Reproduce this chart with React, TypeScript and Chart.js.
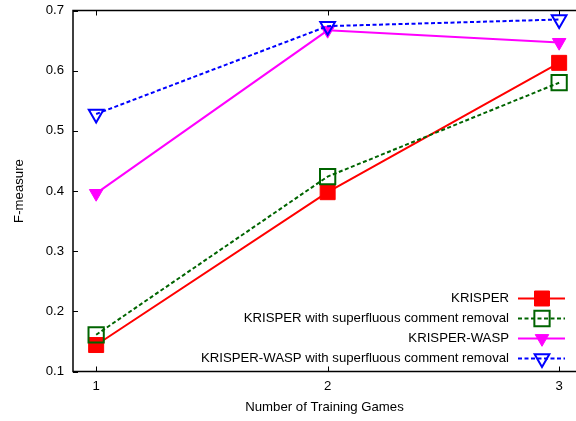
import React, { useEffect, useRef } from 'react';
import { Chart, registerables } from 'chart.js';
import { drawPoint } from 'chart.js/helpers';

Chart.register(...registerables);

// ---- data ----
const trainingGames = [1, 2, 3];
const krisper = [0.144, 0.398, 0.613];
const krisperSCR = [0.161, 0.424, 0.58];
const krisperWasp = [0.396, 0.667, 0.647];
const krisperWaspSCR = [0.528, 0.674, 0.685];
const seriesLabels = [
  'KRISPER',
  'KRISPER with superfluous comment removal',
  'KRISPER-WASP',
  'KRISPER-WASP with superfluous comment removal',
];
const xTickValues = [1, 2, 3];
const yTickValues = [0.1, 0.2, 0.3, 0.4, 0.5, 0.6, 0.7];

const FONT_FAMILY = '"Liberation Sans", Arial, Helvetica, sans-serif';
const FONT_SIZE = 13.2;

const toPoints = (vals: number[]) => trainingGames.map((g, i) => ({ x: g, y: vals[i] }));

const framePlugin = {
  id: 'gnuFrame',
  beforeDatasetsDraw(chart: any) {
    const { ctx, chartArea, scales } = chart;
    const { left, right, top, bottom } = chartArea;
    ctx.save();
    ctx.strokeStyle = '#000';
    ctx.lineWidth = 1.5;
    ctx.beginPath();
    ctx.moveTo(right + 2, top);
    ctx.lineTo(left, top);
    ctx.lineTo(left, bottom);
    ctx.lineTo(right + 2, bottom);
    ctx.stroke();
    ctx.lineWidth = 1;
    ctx.beginPath();
    for (const t of scales.x.ticks) {
      const px = Math.round(scales.x.getPixelForValue(t.value)) + 0.5;
      ctx.moveTo(px, bottom);
      ctx.lineTo(px, bottom - 5);
      ctx.moveTo(px, top);
      ctx.lineTo(px, top + 5);
    }
    for (const t of scales.y.ticks) {
      const py = Math.round(scales.y.getPixelForValue(t.value)) + 0.5;
      ctx.moveTo(left, py);
      ctx.lineTo(left + 5, py);
    }
    ctx.stroke();
    ctx.restore();
  },
};

const legendPlugin = {
  id: 'gnuLegend',
  afterDatasetsDraw(chart: any) {
    const ctx = chart.ctx;
    const textRight = 509;
    const sampleStart = 518;
    const sampleEnd = 565;
    const markerX = 542;
    const firstRow = 298.5;
    const rowGap = 20;
    chart.data.datasets.forEach((ds: any, i: number) => {
      const yy = firstRow + i * rowGap;
      ctx.save();
      ctx.font = `${FONT_SIZE}px ${FONT_FAMILY}`;
      ctx.fillStyle = '#000';
      ctx.textAlign = 'right';
      ctx.textBaseline = 'middle';
      ctx.fillText(ds.label, textRight, yy);
      ctx.strokeStyle = ds.borderColor;
      ctx.lineWidth = ds.borderWidth;
      ctx.setLineDash(ds.borderDash || []);
      ctx.beginPath();
      ctx.moveTo(sampleStart, yy);
      ctx.lineTo(sampleEnd, yy);
      ctx.stroke();
      ctx.setLineDash([]);
      ctx.fillStyle = ds.pointBackgroundColor;
      ctx.strokeStyle = ds.pointBorderColor;
      ctx.lineWidth = ds.pointBorderWidth;
      drawPoint(
        ctx,
        {
          pointStyle: ds.pointStyle,
          rotation: ds.pointRotation || 0,
          radius: ds.pointRadius,
          borderWidth: ds.pointBorderWidth,
        } as any,
        markerX,
        yy
      );
      ctx.restore();
    });
  },
};

export default function App() {
  const ref = useRef<HTMLCanvasElement>(null);

  useEffect(() => {
    const canvas = ref.current!;
    const font = { family: FONT_FAMILY, size: FONT_SIZE };
    const chart = new Chart(canvas, {
      type: 'line',
      data: {
        datasets: [
          {
            label: seriesLabels[0],
            data: toPoints(krisper),
            borderColor: '#ff0000',
            borderWidth: 2,
            pointStyle: 'rect',
            pointRadius: 10.6,
            pointBackgroundColor: '#ff0000',
            pointBorderColor: '#ff0000',
            pointBorderWidth: 1,
            tension: 0,
            order: 4,
          },
          {
            label: seriesLabels[1],
            data: toPoints(krisperSCR),
            borderColor: '#006400',
            borderWidth: 2,
            borderDash: [4, 2.5],
            pointStyle: 'rect',
            pointRadius: 10.8,
            pointBackgroundColor: 'rgba(0,0,0,0)',
            pointBorderColor: '#006400',
            pointBorderWidth: 2,
            tension: 0,
            order: 3,
          },
          {
            label: seriesLabels[2],
            data: toPoints(krisperWasp),
            borderColor: '#ff00ff',
            borderWidth: 2,
            pointStyle: 'triangle',
            pointRotation: 180,
            pointRadius: 7.8,
            pointBackgroundColor: '#ff00ff',
            pointBorderColor: '#ff00ff',
            pointBorderWidth: 1,
            tension: 0,
            order: 2,
          },
          {
            label: seriesLabels[3],
            data: toPoints(krisperWaspSCR),
            borderColor: '#0000ff',
            borderWidth: 2,
            borderDash: [4, 2.5],
            pointStyle: 'triangle',
            pointRotation: 180,
            pointRadius: 8.5,
            pointBackgroundColor: 'rgba(0,0,0,0)',
            pointBorderColor: '#0000ff',
            pointBorderWidth: 2,
            tension: 0,
            order: 1,
          },
        ] as any,
      },
      options: {
        responsive: false,
        animation: false,
        events: [],
        layout: { autoPadding: false, padding: { top: 10.5, right: 0, bottom: 0, left: 0 } },
        plugins: {
          legend: { display: false },
          tooltip: { enabled: false },
        },
        scales: {
          x: {
            type: 'linear',
            min: 0.9,
            max: 3.0728,
            afterBuildTicks: (s: any) => {
              s.ticks = xTickValues.map((v) => ({ value: v }));
            },
            afterFit: (s: any) => {
              s.height = 49.5;
              s.paddingLeft = 0;
              s.paddingRight = 0;
              s.paddingTop = 0;
              s.paddingBottom = 0;
            },
            grid: { display: false, drawTicks: false },
            border: { display: false },
            ticks: {
              padding: 7,
              color: '#000',
              font,
              maxRotation: 0,
              callback: (v: any) => String(v),
            },
            title: {
              display: true,
              text: 'Number of Training Games',
              color: '#000',
              font,
              padding: { top: 0, bottom: 6 },
            },
          },
          y: {
            type: 'linear',
            min: 0.1,
            max: 0.7,
            afterBuildTicks: (s: any) => {
              s.ticks = yTickValues.map((v) => ({ value: v }));
            },
            afterFit: (s: any) => {
              s.width = 73;
              s.paddingLeft = 0;
              s.paddingRight = 0;
              s.paddingTop = 0;
              s.paddingBottom = 0;
            },
            grid: { display: false, drawTicks: false },
            border: { display: false },
            ticks: {
              padding: 9,
              color: '#000',
              font,
              callback: (v: any) => Number(v).toFixed(1),
            },
            title: {
              display: true,
              text: 'F-measure',
              color: '#000',
              font,
              padding: { top: 11, bottom: 0 },
            },
          },
        },
      } as any,
      plugins: [framePlugin, legendPlugin],
    });
    return () => chart.destroy();
  }, []);

  return (
    <div
      style={{
        position: 'absolute',
        left: 0,
        top: 0,
        width: 576,
        height: 421,
        background: '#fff',
        overflow: 'hidden',
      }}
    >
      <canvas ref={ref} width={576} height={421} style={{ display: 'block' }} />
    </div>
  );
}
